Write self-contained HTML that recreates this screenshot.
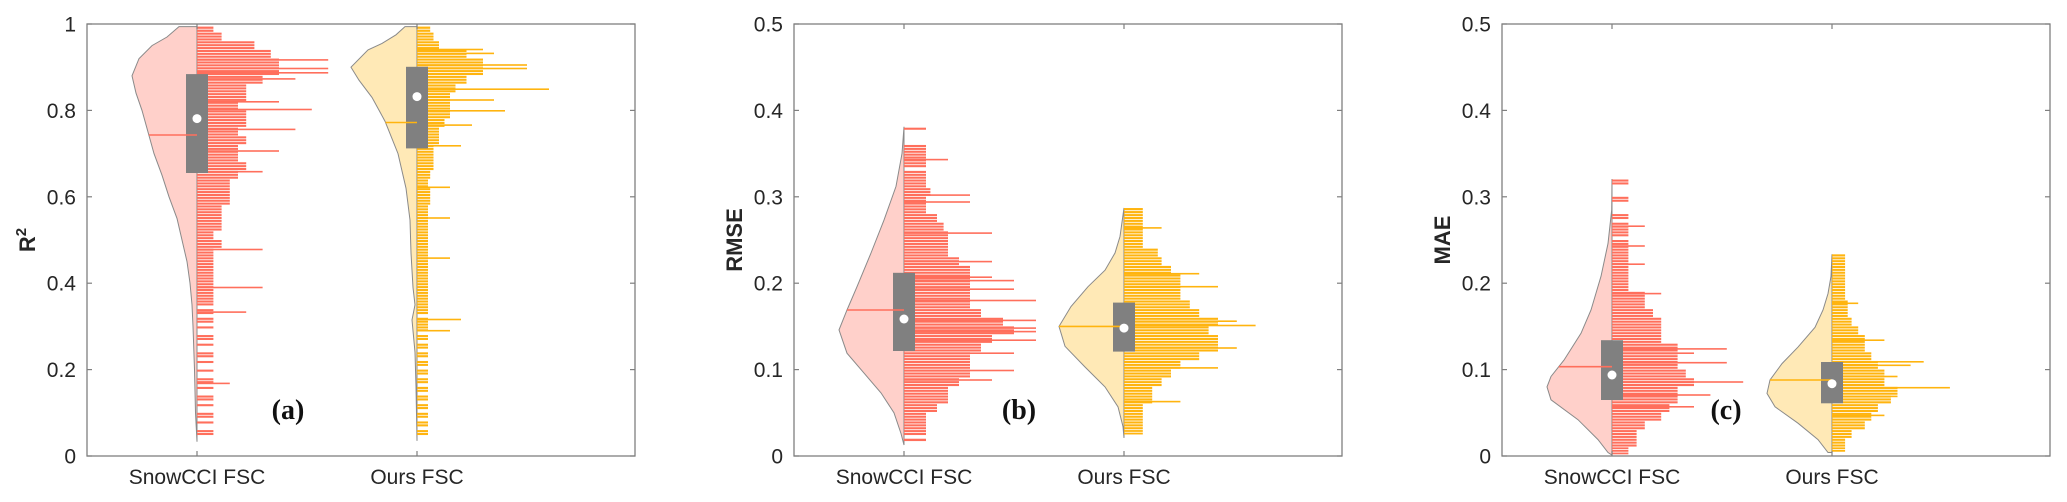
<!DOCTYPE html>
<html><head><meta charset="utf-8"><style>
html,body{margin:0;padding:0;background:#fff;}
svg{display:block;font-family:"Liberation Sans",sans-serif;}
</style></head><body>
<svg id="chart" width="2067" height="502" viewBox="0 0 2067 502" xmlns="http://www.w3.org/2000/svg"></svg>
<script>
// ---------- data ----------
const categories = ["SnowCCI FSC", "Ours FSC"];
const panelLabels = ["(a)", "(b)", "(c)"];
const metricNames = ["R2", "RMSE", "MAE"];
const yMaxes = [1, 0.5, 0.5];
const yTickLabelsA = ["0", "0.2", "0.4", "0.6", "0.8", "1"];
const yTickLabelsBC = ["0", "0.1", "0.2", "0.3", "0.4", "0.5"];

// box stats [q1, median, q3, mean, min, max]
const statsASnow = [0.655, 0.781, 0.884, 0.743, 0.033, 0.994];
const statsAOurs = [0.712, 0.832, 0.901, 0.772, 0.035, 0.994];
const statsBSnow = [0.1215, 0.1586, 0.212, 0.169, 0.0127, 0.381];
const statsBOurs = [0.1208, 0.148, 0.1775, 0.150, 0.021, 0.287];
const statsCSnow = [0.0648, 0.0938, 0.134, 0.1034, 0.001, 0.3206];
const statsCOurs = [0.061, 0.0837, 0.1088, 0.088, 0.004, 0.2334];

// violin density profiles
const violinValsASnow = [0.994,0.97,0.95,0.92,0.88,0.84,0.80,0.75,0.70,0.65,0.60,0.55,0.50,0.45,0.40,0.35,0.30,0.20,0.10,0.033];
const violinDensASnow = [18,30,45,58,65,61,55,49,43,35,28,20,15,10,7,5,4,2.5,1.5,0];
const violinValsAOurs = [0.994,0.975,0.955,0.94,0.90,0.87,0.83,0.775,0.70,0.62,0.546,0.47,0.39,0.35,0.315,0.24,0.16,0.035];
const violinDensAOurs = [12,21,35,49,66,58,45,32,19,11,7,6,4,2,5,2,1,0];
const violinValsBSnow = [0.381,0.350,0.312,0.273,0.235,0.196,0.169,0.146,0.119,0.096,0.073,0.050,0.026,0.0127];
const violinDensBSnow = [0,2,8,20,33,47,57,65,57,40,23,10,3,0];
const violinValsBOurs = [0.287,0.254,0.235,0.215,0.196,0.173,0.150,0.127,0.103,0.080,0.057,0.034,0.021];
const violinDensBOurs = [0,4,9,19,36,53,65,59,39,19,6,1,0];
const violinValsCSnow = [0.3206,0.285,0.246,0.208,0.169,0.142,0.111,0.092,0.080,0.065,0.042,0.019,0.004,0.001];
const violinDensCSnow = [0,0.3,4,11,21,31,48,61,65,61,34,14,4,0];
const violinValsCOurs = [0.2334,0.208,0.188,0.169,0.149,0.126,0.107,0.088,0.0725,0.057,0.038,0.019,0.004];
const violinDensCOurs = [0,1,4,9,17,34,50,62,65,57,34,14,4];

// histogram counts per bin (from top bin downward)
const binTops = [1.0, 1.0, 0.38, 0.29, 0.32, 0.24];
const binSizes = [0.02, 0.02, 0.01, 0.01, 0.01, 0.01];
const countsASnow = [1,1.5,3.5,4.5,5,5,4,3,3,2.5,3,3,2.5,3,2.5,2.5,3,2.5,2,2,2,1.5,1.5,1.5,1,1.5,1,1,1,0.8,1,0.8,0.5,0.5,0.4,0.3,0.4,0.3,0.4,0.3,0.3,0.4,0.3,0.4,0.3,0.4,0.3,0.4];
const countsAOurs = [1.2,1.5,2,4.5,6,6,4.5,3.5,3,3,3,2.5,2,2,1.5,1.5,1.5,1.2,1,1.2,1.2,1,1,1,1,0.8,0.8,1,0.8,1,1,1,0.8,0.5,0.8,0.6,0.5,0.6,0.5,0.6,0.5,0.6,0.6,0.5,0.6,0.5,0.6,0.5];
const countsBSnow = [0.3,0,1,1,0.5,1,1,1.2,1,1,1.5,1.8,2,2,2,2.5,3,3,3,3,3,3.5,4.5,5,4,3.5,3,3,3,2.5,2,2,1.5,1,0.8,0.6,0.5];
const countsBOurs = [1,1,1,1,1,1.8,2,2.5,3,3,3,3.5,4,5,4.5,5,5,4,3,2.5,2,1.5,1.5,1,1,1,0.6];
const countsCSnow = [0.4,0,0.4,0,0.4,0.8,0.5,1,0.9,1,1,1,1,2,2,2.5,3,3,3,4,4,4,4.5,5,4,4,3.5,3,2,1.5,1.5,1];
const countsCOurs = [0.6,0.8,0.8,1,1,1,1.2,1.2,1.5,2,2.5,2.5,3,3.5,4,4,5,4.5,3.5,3,2.5,1.5,1,1];

// individual long lines: values and counts
const spikeValsASnow = [0.917,0.897,0.887,0.873,0.820,0.802,0.756,0.706,0.658,0.478,0.390,0.333,0.168];
const spikeCntsASnow = [8,8,8,6,5,7,6,5,4,4,4,3,2];
const spikeValsAOurs = [0.941,0.932,0.905,0.897,0.849,0.824,0.799,0.766,0.718,0.622,0.551,0.458,0.316,0.290];
const spikeCntsAOurs = [6,7,10,10,12,7,8,5,4,3,3,3,4,3];
const spikeValsBSnow = [0.343,0.302,0.294,0.258,0.225,0.207,0.203,0.193,0.180,0.157,0.148,0.144,0.134,0.119,0.099,0.088];
const spikeCntsBSnow = [2,3,3,4,4,4,5,5,6,6,6,6,6,5,5,4];
const spikeValsBOurs = [0.264,0.211,0.196,0.156,0.151,0.125,0.102,0.063];
const spikeCntsBOurs = [2,4,5,6,7,6,5,3];
const spikeValsCSnow = [0.266,0.243,0.222,0.188,0.124,0.119,0.108,0.0857,0.0706,0.057];
const spikeCntsCSnow = [2,2,2,3,7,5,7,8,6,5];
const spikeValsCOurs = [0.1767,0.134,0.109,0.105,0.092,0.079,0.069,0.047];
const spikeCntsCOurs = [2,4,7,6,5,9,5,4];

// ---------- drawing ----------
const NS = "http://www.w3.org/2000/svg";
const svg = document.getElementById("chart");
function mk(tag, attrs, parent) {
  const e = document.createElementNS(NS, tag);
  for (const k in attrs) e.setAttribute(k, attrs[k]);
  (parent || svg).appendChild(e);
  return e;
}
const PANEL_LEFTS = [87, 794, 1502];
const TOP = 24, BOTTOM = 456, W = 548;
const X_UNIT = 220;
const COLORS = [{main:"#ff6f5c", light:"#ffd0ca"}, {main:"#ffb40f", light:"#ffe9b6"}];
const COUNT_PX = [[16.4, 11], [22, 18.8], [16.4, 13.1]];
const LABEL_OFFSETS = [201, 225, 224];

const seriesSets = [
  [ {stats:statsASnow, vv:violinValsASnow, vd:violinDensASnow, counts:countsASnow, sv:spikeValsASnow, sc:spikeCntsASnow},
    {stats:statsAOurs, vv:violinValsAOurs, vd:violinDensAOurs, counts:countsAOurs, sv:spikeValsAOurs, sc:spikeCntsAOurs} ],
  [ {stats:statsBSnow, vv:violinValsBSnow, vd:violinDensBSnow, counts:countsBSnow, sv:spikeValsBSnow, sc:spikeCntsBSnow},
    {stats:statsBOurs, vv:violinValsBOurs, vd:violinDensBOurs, counts:countsBOurs, sv:spikeValsBOurs, sc:spikeCntsBOurs} ],
  [ {stats:statsCSnow, vv:violinValsCSnow, vd:violinDensCSnow, counts:countsCSnow, sv:spikeValsCSnow, sc:spikeCntsCSnow},
    {stats:statsCOurs, vv:violinValsCOurs, vd:violinDensCOurs, counts:countsCOurs, sv:spikeValsCOurs, sc:spikeCntsCOurs} ]
];

function interpDens(vv, vd, v) {
  for (let i = 0; i < vv.length - 1; i++) {
    const a = vv[i], b = vv[i+1];
    if (v <= a && v >= b) {
      const t = (a - v) / (a - b);
      return vd[i] + t * (vd[i+1] - vd[i]);
    }
  }
  return 0;
}

for (let p = 0; p < 3; p++) {
  const left = PANEL_LEFTS[p];
  const ymax = yMaxes[p];
  const xs = d => left + (d - 0.5) * X_UNIT;
  const ys = v => BOTTOM - v / ymax * (BOTTOM - TOP);
  const g = mk("g", {});
  
  

  for (let s = 0; s < 2; s++) {
    const ser = seriesSets[p][s];
    const cx = xs(s + 1);
    const col = COLORS[s];
    const sg = mk("g", {}, g);
    
    
    let pts = [];
    for (let i = 0; i < ser.vv.length; i++) pts.push((cx - ser.vd[i]).toFixed(1) + "," + ys(ser.vv[i]).toFixed(1));
    pts.push(cx + "," + ys(ser.vv[ser.vv.length-1]).toFixed(1));
    pts.push(cx + "," + ys(ser.vv[0]).toFixed(1));
    const vio = mk("polygon", {points: pts.join(" "), fill: col.light, stroke: "#8a8a8a", "stroke-width": 1}, sg);
    
    
    const px = COUNT_PX[p][s];
    const bt = binTops[p*2 + s], bs = binSizes[p*2 + s];
    const vmin = ser.stats[4], vmaxD = ser.stats[5];
    for (let i = 0; i < ser.counts.length; i++) {
      const c = ser.counts[i];
      if (c <= 0) continue;
      let hi = Math.min(bt - i * bs, vmaxD), lo = Math.max(bt - (i + 1) * bs, vmin);
      if (hi <= lo) continue;
      const y1 = ys(hi), y2 = ys(lo);
      const span = y2 - y1;
      const n = Math.max(1, Math.round(span / 2.7));
      const pitch = span / n;
      const wBase = Math.max(c, 1) * px;
      for (let k = 0; k < n; k++) {
        if (c < 1 && (k / n) >= c) break;
        const r = mk("rect", {x: cx, y: (y1 + k * pitch).toFixed(2), width: wBase.toFixed(1), height: Math.max(pitch - 0.8, 1.2).toFixed(2), fill: col.main}, sg);
        
        
      }
    }
    for (let i = 0; i < ser.sv.length; i++) {
      const y = ys(ser.sv[i]);
      const l = mk("rect", {x: cx, y: (y - 0.8).toFixed(1), width: (ser.sc[i] * px).toFixed(1), height: 1.6, fill: col.main}, sg);
      
      
    }
    const st = ser.stats;
    const box = mk("rect", {x: cx - 11, y: ys(st[2]).toFixed(1), width: 22, height: (ys(st[0]) - ys(st[2])).toFixed(1), fill: "#808080"}, sg);
    
    
    const mw = interpDens(ser.vv, ser.vd, st[3]);
    const ml = mk("line", {x1: (cx - mw).toFixed(1), x2: cx, y1: ys(st[3]).toFixed(1), y2: ys(st[3]).toFixed(1), stroke: col.main, "stroke-width": 1.6}, sg);
    
    
    const dot = mk("circle", {cx: cx, cy: ys(st[1]).toFixed(1), r: 4.5, fill: "#fff"}, sg);
    
    
  }

  const fr = mk("rect", {x: left, y: TOP, width: W, height: BOTTOM - TOP, fill: "none", stroke: "#7f7f7f", "stroke-width": 1.3}, g);
  
  
  const ticks = p === 0 ? yTickLabelsA : yTickLabelsBC;
  for (let i = 0; i < ticks.length; i++) {
    const v = parseFloat(ticks[i]);
    const y = ys(v);
    mk("line", {x1: left, x2: left + 5, y1: y, y2: y, stroke: "#7f7f7f", "stroke-width": 1.2}, g);
    mk("line", {x1: left + W - 5, x2: left + W, y1: y, y2: y, stroke: "#7f7f7f", "stroke-width": 1.2}, g);
    const t = mk("text", {x: left - 11, y: y + 7.5, "text-anchor": "end", "font-size": 21, fill: "#262626"}, g);
    t.textContent = ticks[i];
    
    
  }
  for (let s = 0; s < 2; s++) {
    const x = xs(s + 1);
    mk("line", {x1: x, x2: x, y1: BOTTOM, y2: BOTTOM - 5, stroke: "#7f7f7f", "stroke-width": 1.2}, g);
    mk("line", {x1: x, x2: x, y1: TOP, y2: TOP + 5, stroke: "#7f7f7f", "stroke-width": 1.2}, g);
    const t = mk("text", {x: x, y: 484, "text-anchor": "middle", "font-size": 21, fill: "#262626"}, g);
    t.textContent = categories[s];
    
    
  }
  const yt = mk("text", {transform: "translate(" + (left - 52) + "," + ((TOP + BOTTOM) / 2) + ") rotate(-90)", "text-anchor": "middle", "font-size": 22, "font-weight": "bold", fill: "#262626"}, g);
  if (p === 0) {
    yt.textContent = "R";
    const sup = mk("tspan", {"font-size": 15, dy: -9}, yt);
    sup.textContent = "2";
  } else {
    yt.textContent = metricNames[p];
  }
  
  
  const pl = mk("text", {x: left + LABEL_OFFSETS[p], y: 419, "text-anchor": "middle", "font-size": 28, "font-weight": "bold", "font-family": "Liberation Serif, serif", fill: "#111"}, g);
  pl.textContent = panelLabels[p];
  
  
}
</script>
</body></html>
